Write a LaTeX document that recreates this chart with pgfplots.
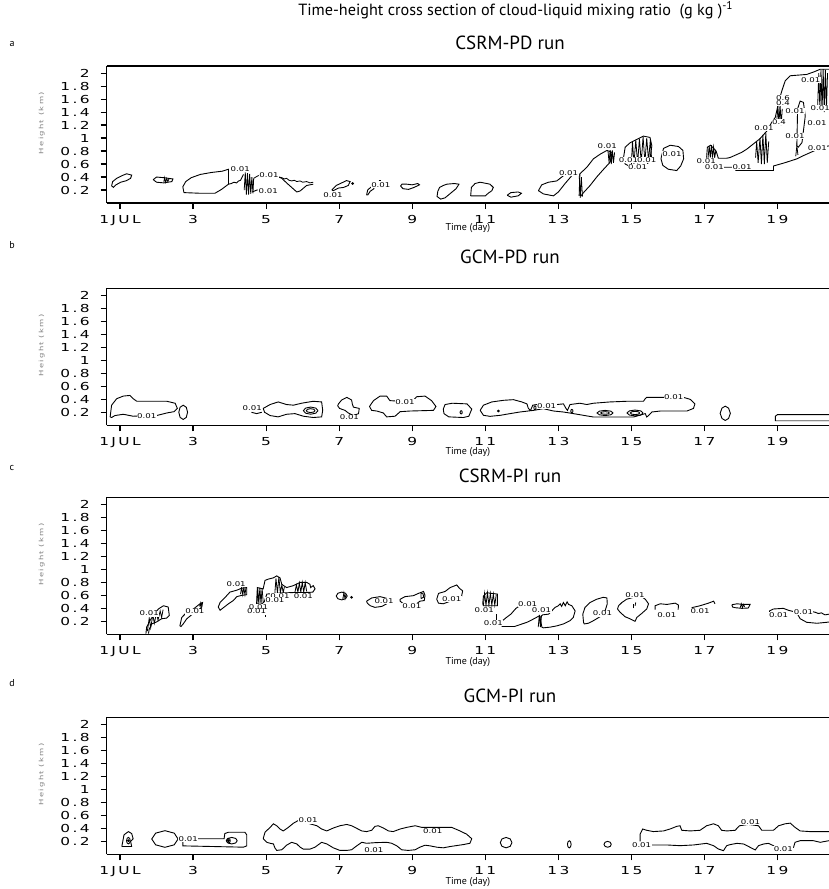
\documentclass[border=0pt]{standalone}
\usepackage{pgfplots}
\pgfplotsset{compat=1.18}
\usepackage{fontspec}
\setmainfont{PT Sans}
\newfontfamily\tickfont[FakeStretch=1.4,LetterSpace=22]{DejaVu Sans}
\newfontfamily\lblfontfam[FakeStretch=1.3]{DejaVu Sans}
\tikzset{lbl/.style={font=\lblfontfam\fontsize{3.3}{3.3}\selectfont, fill=white, inner sep=0.25pt}}
\pgfplotsset{
 cl/.style={black, line width=0.45pt, mark=none},
 ht/.style={black, line width=0.4pt, mark=none},
 dot/.style={black, only marks, mark=*, mark size=0.45pt},
 panel/.style={
  scale only axis, width=361.15pt, height=68.5pt,
  xmin=0.636, xmax=20.41, ymin=0, ymax=2.11,
  axis x line*=bottom, axis y line*=left,
  axis line style={line width=0.7pt, black},
  tick align=outside, major tick length=3pt,
  tick style={line width=0.6pt, black},
  xtick={1,3,5,7,9,11,13,15,17,19},
  xticklabels={1JUL,3,5,7,9,11,13,15,17,19},
  ytick={0.2,0.4,0.6,0.8,1,1.2,1.4,1.6,1.8,2},
  yticklabels={0.2,0.4,0.6,0.8,1,1.2,1.4,1.6,1.8,2},
  ticklabel style={font=\tickfont\fontsize{5.5}{6}\selectfont},
  xticklabel style={yshift=0.5pt},
  yticklabel style={xshift=-2pt},
  xlabel={Time (day)},
  xlabel style={font=\fontsize{5}{6}\selectfont, at={(axis description cs:0.5,0)}, anchor=base},
  ylabel={Height (km)},
  ylabel style={font=\tickfont\fontsize{3}{3}\selectfont, text=gray, at={(axis description cs:-0.09,0.583)}, anchor=center},
  extra description/.code={\draw[line width=0.7pt] (rel axis cs:0,1)--(rel axis cs:1,1);},
 }
}
\begin{document}
\begin{tikzpicture}
\useasboundingbox (0,0) rectangle (414.5pt,-444.5pt);
% titles
\node[anchor=base, font=\fontsize{8.1}{9}\selectfont] at (258pt,-7.8pt) {Time-height cross section of cloud-liquid mixing ratio\ \ (g kg\ )\textsuperscript{-1}};
\node[anchor=base, font=\fontsize{9.5}{10}\selectfont] at (255pt,-24.5pt) {CSRM-PD run};
\node[anchor=base, font=\fontsize{9.5}{10}\selectfont] at (255pt,-131.7pt) {GCM-PD run};
\node[anchor=base, font=\fontsize{9.5}{10}\selectfont] at (255pt,-241.3pt) {CSRM-PI run};
\node[anchor=base, font=\fontsize{9.5}{10}\selectfont] at (255pt,-351.3pt) {GCM-PI run};
\node[anchor=base, font=\fontsize{5}{6}\selectfont] at (6pt,-23.3pt) {a};
\node[anchor=base, font=\fontsize{5}{6}\selectfont] at (6pt,-124pt) {b};
\node[anchor=base, font=\fontsize{5}{6}\selectfont] at (6pt,-235.3pt) {c};
\node[anchor=base, font=\fontsize{5}{6}\selectfont] at (6pt,-343.3pt) {d};

%================ PANEL A
\begin{axis}[panel, at={(53.35pt,-33pt)}, anchor=north west, xlabel style={yshift=-13.5pt}]
\addplot[cl] coordinates {(0.77,0.265)(0.80,0.33)(0.91,0.38)(1.05,0.42)(1.18,0.45)(1.32,0.43)(1.29,0.38)(1.18,0.345)(1.02,0.32)(0.89,0.28)(0.82,0.24)(0.77,0.265)};
\addplot[cl] coordinates {(1.91,0.36)(2.0,0.40)(2.2,0.39)(2.45,0.37)(2.42,0.33)(2.2,0.31)(2.0,0.32)(1.91,0.36)};
\addplot[ht] coordinates {(2.2,0.32)(2.22,0.39)(2.25,0.32)(2.28,0.38)(2.31,0.33)(2.34,0.37)};
\addplot[cl] coordinates {(2.75,0.16)(2.72,0.25)(2.80,0.33)(2.95,0.39)(3.2,0.44)(3.5,0.47)(3.8,0.49)(3.97,0.52)(3.97,0.40)(3.97,0.29)(3.78,0.21)(3.60,0.15)(3.2,0.15)(2.75,0.16)};
\addplot[cl] coordinates {(3.97,0.29)(4.05,0.30)(4.12,0.32)(4.19,0.31)(4.25,0.34)(4.30,0.35)(4.38,0.44)};
\addplot[ht] coordinates {(4.40,0.20)(4.43,0.47)(4.46,0.13)(4.49,0.46)(4.52,0.13)(4.55,0.45)(4.58,0.14)(4.61,0.40)(4.64,0.15)(4.66,0.38)(4.72,0.40)(4.78,0.42)(4.90,0.43)};
\addplot[cl] coordinates {(4.62,0.17)(4.75,0.20)(4.9,0.20)};
\addplot[cl] coordinates {(5.30,0.41)(5.43,0.38)(5.56,0.31)(5.70,0.24)(5.84,0.17)(5.93,0.185)(6.11,0.27)(6.29,0.29)};
\addplot[ht] coordinates {(5.35,0.40)(5.43,0.39)(5.50,0.37)(5.56,0.38)(5.63,0.35)(5.70,0.34)(5.77,0.35)(5.84,0.33)(5.93,0.34)(6.0,0.32)(6.11,0.33)(6.2,0.31)(6.29,0.32)};
\addplot[cl] coordinates {(6.80,0.20)(6.92,0.27)(7.07,0.31)(7.20,0.345)(7.3,0.33)(7.25,0.27)(7.12,0.24)(6.98,0.23)(6.84,0.19)(6.80,0.20)};
\addplot[dot] coordinates {(7.37,0.30)};
\addplot[cl] coordinates {(7.75,0.12)(7.78,0.20)(7.86,0.24)(7.94,0.26)(7.95,0.22)(7.85,0.18)(7.78,0.12)};
\addplot[ht] coordinates {(8.08,0.35)(8.14,0.35)};
\addplot[cl] coordinates {(8.68,0.26)(8.75,0.22)(8.9,0.21)(9.05,0.24)(9.2,0.28)(9.15,0.30)(9.0,0.28)(8.85,0.29)(8.72,0.29)(8.68,0.26)};
\addplot[cl] coordinates {(9.70,0.18)(9.68,0.10)(9.78,0.06)(9.90,0.08)(10.05,0.15)(10.2,0.22)(10.28,0.29)(10.15,0.30)(9.95,0.29)(9.85,0.27)(9.75,0.24)(9.70,0.18)};
\addplot[cl] coordinates {(10.60,0.11)(10.62,0.24)(10.72,0.30)(10.86,0.32)(11.13,0.29)(11.22,0.24)(11.18,0.19)(11.08,0.15)(11.0,0.11)(10.60,0.11)};
\addplot[cl] coordinates {(11.6,0.12)(11.7,0.16)(11.9,0.17)(11.99,0.15)(11.9,0.11)(11.7,0.09)(11.6,0.12)};
\addplot[cl] coordinates {(12.455,0.19)(12.546,0.28)(12.729,0.32)(12.957,0.34)(13.139,0.42)(13.322,0.47)(13.368,0.42)(13.185,0.30)(13.002,0.17)(12.866,0.11)(12.592,0.14)(12.455,0.19)};
\addplot[cl] coordinates {(13.57,0.11)(13.59,0.45)(13.78,0.55)(13.96,0.68)(14.14,0.75)(14.33,0.81)(14.47,0.78)(14.42,0.63)(14.24,0.52)(14.05,0.40)(13.87,0.27)(13.69,0.16)(13.61,0.10)};
\addplot[ht] coordinates {(14.36,0.80)(14.39,0.62)(14.42,0.83)(14.45,0.60)(14.48,0.81)(14.51,0.62)(14.54,0.78)};
\addplot[ht] coordinates {(13.57,0.45)(13.60,0.08)(13.63,0.40)(13.66,0.10)};
\addplot[cl] coordinates {(14.78,0.68)(14.83,0.86)(14.97,0.93)(15.15,0.98)(15.33,1.03)(15.51,1.01)(15.56,0.88)(15.51,0.68)(15.42,0.58)(15.24,0.57)(14.97,0.56)(14.83,0.60)(14.78,0.68)};
\addplot[ht] coordinates {(15.0,0.60)(15.03,0.95)(15.07,0.60)(15.12,0.97)(15.17,0.61)(15.22,0.99)(15.27,0.62)(15.32,1.02)(15.37,0.63)(15.42,1.0)(15.47,0.65)(15.52,0.98)(15.55,0.70)};
\addplot[cl] coordinates {(15.83,0.73)(15.88,0.84)(16.06,0.89)(16.29,0.87)(16.41,0.81)(16.43,0.68)(16.35,0.57)(16.24,0.50)(16.01,0.52)(15.86,0.58)(15.81,0.68)(15.83,0.73)};
\addplot[cl] coordinates {(17.06,0.70)(17.08,0.86)(17.17,0.89)(17.32,0.80)(17.38,0.69)(17.61,0.69)(17.70,0.70)(18.02,0.78)(18.16,0.83)(18.34,0.91)(18.52,0.99)(18.71,1.11)(18.84,1.24)(18.94,1.32)(19.03,1.55)(19.12,1.73)(19.21,1.88)(19.35,1.96)(19.80,1.98)(20.0,2.02)(20.17,2.06)(20.41,2.06)};
\addplot[cl] coordinates {(17.45,0.55)(17.84,0.55)(17.86,0.50)(18.89,0.50)(18.89,0.57)(19.2,0.62)(19.53,0.68)(19.71,0.73)(19.99,0.80)(20.21,0.86)(20.41,0.88)};
\addplot[cl] coordinates {(19.53,0.88)(19.55,1.45)(19.62,1.57)(19.71,1.55)(19.76,1.34)(19.67,0.93)(19.57,0.86)(19.53,0.88)};
\addplot[ht] coordinates {(17.10,0.70)(17.13,0.88)(17.16,0.70)(17.19,0.89)(17.22,0.70)(17.25,0.86)(17.28,0.70)(17.31,0.80)};
\addplot[ht] coordinates {(18.40,0.70)(18.43,0.95)(18.47,0.62)(18.52,1.00)(18.56,0.60)(18.60,1.05)(18.64,0.60)(18.68,1.08)(18.72,0.62)(18.76,0.95)};
\addplot[ht] coordinates {(18.98,1.25)(19.01,1.50)(19.04,1.22)(19.07,1.52)(19.10,1.20)(19.13,1.45)};
\addplot[ht] coordinates {(20.10,1.50)(20.13,2.0)(20.16,1.45)(20.19,2.05)(20.22,1.42)(20.25,2.06)(20.28,1.40)(20.31,2.05)(20.34,1.45)(20.37,2.0)};
\addplot[ht] coordinates {(19.50,0.72)(19.53,0.88)(19.56,0.74)};
\node[lbl] at (axis cs:4.29,0.52) {0.01};
\node[lbl] at (axis cs:5.08,0.43) {0.01};
\node[lbl] at (axis cs:5.06,0.19) {0.01};
\node[lbl] at (axis cs:6.83,0.12) {0.01};
\node[lbl] at (axis cs:8.14,0.28) {0.01};
\node[lbl] at (axis cs:13.28,0.46) {0.01};
\node[lbl] at (axis cs:14.34,0.87) {0.01};
\node[lbl] at (axis cs:14.92,0.66) {0.01};
\node[lbl] at (axis cs:15.42,0.66) {0.01};
\node[lbl] at (axis cs:15.17,0.56) {0.01};
\node[lbl] at (axis cs:16.11,0.76) {0.01};
\node[lbl] at (axis cs:17.05,0.64) {0.01};
\node[lbl] at (axis cs:17.27,0.55) {0.01};
\node[lbl] at (axis cs:18.03,0.55) {0.01};
\node[lbl] at (axis cs:18.63,1.15) {0.01};
\node[lbl] at (axis cs:19.04,1.24) {0.4};
\node[lbl] at (axis cs:19.15,1.62) {0.6};
\node[lbl] at (axis cs:19.15,1.54) {0.4};
\node[lbl] at (axis cs:19.48,1.42) {0.01};
\node[lbl] at (axis cs:19.48,1.03) {0.01};
\node[lbl] at (axis cs:20.09,0.84) {0.01};
\node[lbl] at (axis cs:20.17,1.46) {0.01};
\node[lbl] at (axis cs:20.08,1.23) {0.01};
\node[lbl] at (axis cs:19.91,1.90) {0.01};
\end{axis}

%================ PANEL B
\begin{axis}[panel, at={(53.35pt,-144.15pt)}, anchor=north west, xlabel style={yshift=-14.5pt}]
\addplot[cl] coordinates {(0.73,0.13)(0.77,0.31)(0.91,0.41)(1.09,0.45)(1.27,0.46)(1.36,0.41)(1.46,0.37)(2.28,0.37)(2.51,0.34)(2.57,0.26)(2.48,0.21)(2.28,0.19)(2.0,0.15)(1.36,0.14)(1.09,0.17)(0.86,0.15)(0.77,0.12)(0.73,0.13)};
\addplot[cl] coordinates {(2.85,0.20)(2.815,0.278)(2.73,0.31)(2.645,0.278)(2.61,0.20)(2.645,0.122)(2.73,0.09)(2.815,0.122)(2.85,0.20)};
\addplot[cl] coordinates {(4.60,0.20)(4.74,0.18)(4.88,0.20)};
\addplot[cl] coordinates {(4.92,0.26)(5.11,0.32)(5.33,0.36)(5.56,0.32)(5.75,0.31)(5.97,0.34)(6.29,0.37)(6.52,0.36)(6.55,0.23)(6.52,0.13)(6.29,0.12)(6.02,0.14)(5.79,0.18)(5.56,0.17)(5.33,0.13)(5.11,0.15)(4.96,0.20)(4.92,0.26)};
\addplot[cl] coordinates {(6.42,0.226)(6.36,0.265)(6.22,0.281)(6.08,0.265)(6.02,0.226)(6.08,0.187)(6.22,0.171)(6.36,0.187)(6.42,0.226)};
\addplot[cl] coordinates {(6.34,0.226)(6.305,0.247)(6.22,0.256)(6.135,0.247)(6.10,0.226)(6.135,0.205)(6.22,0.196)(6.305,0.205)(6.34,0.226)};
\addplot[cl] coordinates {(6.98,0.33)(7.07,0.39)(7.21,0.43)(7.34,0.39)(7.36,0.33)(7.39,0.28)(7.55,0.26)(7.53,0.18)(7.39,0.15)(7.25,0.19)(7.16,0.23)(7.01,0.26)(6.96,0.30)(6.98,0.33)};
\addplot[cl] coordinates {(7.83,0.29)(7.94,0.38)(8.12,0.45)(8.30,0.45)(8.39,0.38)(8.99,0.36)(9.12,0.44)(9.35,0.45)(9.53,0.38)(9.65,0.29)(9.58,0.23)(8.94,0.22)(8.67,0.21)(8.53,0.14)(8.30,0.13)(8.21,0.19)(8.03,0.22)(7.89,0.23)(7.83,0.29)};
\addplot[cl] coordinates {(9.85,0.25)(9.90,0.32)(10.1,0.34)(10.5,0.33)(10.63,0.25)(10.55,0.14)(10.4,0.12)(10.0,0.13)(9.87,0.18)(9.85,0.25)};
\addplot[cl] coordinates {(10.37,0.20)(10.36,0.218)(10.34,0.225)(10.32,0.218)(10.31,0.20)(10.32,0.182)(10.34,0.175)(10.36,0.182)(10.37,0.20)};
\addplot[cl] coordinates {(10.86,0.23)(10.95,0.31)(11.18,0.36)(11.50,0.385)(11.77,0.395)(12.0,0.36)(12.14,0.33)(12.18,0.26)(12.24,0.23)(12.30,0.31)(12.41,0.32)(12.96,0.32)(13.14,0.33)(13.21,0.26)(13.25,0.23)(13.32,0.32)(13.59,0.34)(13.78,0.32)(13.96,0.34)(14.42,0.36)(14.87,0.37)(15.33,0.37)(15.38,0.41)(15.42,0.43)(15.88,0.43)(16.43,0.43)(16.61,0.40)(16.74,0.33)(16.70,0.26)(16.52,0.22)(15.79,0.22)(15.56,0.205)(15.47,0.15)(15.42,0.128)(15.38,0.18)(15.06,0.128)(14.69,0.128)(13.96,0.128)(13.41,0.18)(13.14,0.205)(12.87,0.22)(12.59,0.256)(12.32,0.23)(11.95,0.205)(11.68,0.18)(11.41,0.154)(11.13,0.138)(10.95,0.154)(10.86,0.23)};
\addplot[dot] coordinates {(11.36,0.22)};
\addplot[cl] coordinates {(12.39,0.27)(12.381,0.291)(12.36,0.30)(12.339,0.291)(12.33,0.27)(12.339,0.249)(12.36,0.24)(12.381,0.249)(12.39,0.27)};
\addplot[cl] coordinates {(13.40,0.22)(13.391,0.238)(13.37,0.245)(13.349,0.238)(13.34,0.22)(13.349,0.202)(13.37,0.195)(13.391,0.202)(13.40,0.22)};
\addplot[cl] coordinates {(14.50,0.19)(14.436,0.218)(14.28,0.23)(14.124,0.218)(14.06,0.19)(14.124,0.162)(14.28,0.15)(14.436,0.162)(14.50,0.19)};
\addplot[cl] coordinates {(14.40,0.19)(14.365,0.204)(14.28,0.21)(14.195,0.204)(14.16,0.19)(14.195,0.176)(14.28,0.17)(14.365,0.176)(14.40,0.19)};
\addplot[cl] coordinates {(15.32,0.19)(15.256,0.222)(15.10,0.235)(14.944,0.222)(14.88,0.19)(14.944,0.158)(15.10,0.145)(15.256,0.158)(15.32,0.19)};
\addplot[cl] coordinates {(15.23,0.19)(15.192,0.208)(15.10,0.215)(15.008,0.208)(14.97,0.19)(15.008,0.172)(15.10,0.165)(15.192,0.172)(15.23,0.19)};
\addplot[cl] coordinates {(17.71,0.185)(17.66,0.265)(17.57,0.295)(17.48,0.265)(17.43,0.185)(17.48,0.105)(17.57,0.075)(17.66,0.105)(17.71,0.185)};
\addplot[cl] coordinates {(20.41,0.165)(19.0,0.165)(18.94,0.14)(18.94,0.07)(20.41,0.07)};
\addplot[black!45, line width=0.45pt, mark=none] coordinates {(18.96,0.08)(20.41,0.08)};
\node[lbl] at (axis cs:1.73,0.14) {0.01};
\node[lbl] at (axis cs:4.62,0.26) {0.01};
\node[lbl] at (axis cs:7.28,0.12) {0.01};
\node[lbl] at (axis cs:8.80,0.36) {0.01};
\node[lbl] at (axis cs:12.68,0.30) {0.01};
\node[lbl] at (axis cs:16.16,0.43) {0.01};
\end{axis}

%================ PANEL C
\begin{axis}[panel, at={(53.35pt,-248.65pt)}, anchor=north west, xlabel style={yshift=-15pt}]
\addplot[cl] coordinates {(1.71,0.01)(1.73,0.11)(1.82,0.21)(1.91,0.29)(2.05,0.39)(2.19,0.44)(2.32,0.42)(2.35,0.29)(2.28,0.25)(2.14,0.24)(2.0,0.19)(1.87,0.16)(1.80,0.08)(1.78,0.01)};
\addplot[ht] coordinates {(1.75,0.05)(1.80,0.25)(1.84,0.10)(1.90,0.30)(1.94,0.17)(2.00,0.33)(2.04,0.22)(2.10,0.36)(2.14,0.26)(2.18,0.38)};
\addplot[cl] coordinates {(2.64,0.13)(2.69,0.26)(2.83,0.34)(3.01,0.39)(3.19,0.47)(3.26,0.49)(3.24,0.42)(3.10,0.35)(2.96,0.30)(2.83,0.24)(2.73,0.16)(2.67,0.12)(2.64,0.13)};
\addplot[ht] coordinates {(3.18,0.43)(3.20,0.48)(3.22,0.42)(3.24,0.49)};
\addplot[cl] coordinates {(3.69,0.42)(3.74,0.49)(3.88,0.57)(4.01,0.65)(4.20,0.68)(4.33,0.71)(4.47,0.72)(4.47,0.61)(4.33,0.60)(4.20,0.58)(4.10,0.52)(3.97,0.47)(3.83,0.41)(3.74,0.37)(3.69,0.42)};
\addplot[ht] coordinates {(4.30,0.62)(4.33,0.72)(4.36,0.61)(4.39,0.72)(4.42,0.61)(4.45,0.72)};
\addplot[cl] coordinates {(4.74,0.47)(4.76,0.72)(4.83,0.71)(4.92,0.70)(4.97,0.83)(5.06,0.85)(5.20,0.87)(5.29,0.90)(5.38,0.87)(5.43,0.77)(5.56,0.72)(5.75,0.75)(5.93,0.80)(6.11,0.80)(6.20,0.77)(6.22,0.72)(6.29,0.75)(6.34,0.70)(6.28,0.65)(6.16,0.645)(5.5,0.64)(5.02,0.62)(4.95,0.50)(4.86,0.46)(4.74,0.47)};
\addplot[ht] coordinates {(4.75,0.47)(4.77,0.72)(4.80,0.47)(4.83,0.72)(4.86,0.47)(4.89,0.71)(4.92,0.50)};
\addplot[ht] coordinates {(5.24,0.64)(5.27,0.86)(5.31,0.64)(5.35,0.88)(5.39,0.64)(5.43,0.76)(5.47,0.64)(5.50,0.73)};
\addplot[ht] coordinates {(5.79,0.65)(5.83,0.76)(5.87,0.65)(5.91,0.79)(5.95,0.65)(5.99,0.80)(6.03,0.65)(6.07,0.80)(6.11,0.66)};
\addplot[ht] coordinates {(4.99,0.27)(4.99,0.31)};
\addplot[cl] coordinates {(7.22,0.59)(7.176,0.632)(7.07,0.65)(6.964,0.632)(6.92,0.59)(6.964,0.548)(7.07,0.53)(7.176,0.548)(7.22,0.59)};
\addplot[ht] coordinates {(7.10,0.54)(7.13,0.64)(7.16,0.55)(7.19,0.62)};
\addplot[dot] coordinates {(7.34,0.57)};
\addplot[cl] coordinates {(7.75,0.51)(7.89,0.56)(8.12,0.58)(8.26,0.56)(8.37,0.54)(8.30,0.47)(8.17,0.43)(7.98,0.415)(7.85,0.44)(7.77,0.48)(7.75,0.51)};
\addplot[cl] coordinates {(8.67,0.54)(8.80,0.58)(9.03,0.595)(9.17,0.63)(9.31,0.66)(9.35,0.60)(9.33,0.52)(9.21,0.51)(9.12,0.47)(8.94,0.44)(8.76,0.47)(8.67,0.51)(8.67,0.54)};
\addplot[cl] coordinates {(9.24,0.55)(9.24,0.64)(9.30,0.62)(9.31,0.57)(9.24,0.55)};
\addplot[cl] coordinates {(9.67,0.54)(9.72,0.63)(9.90,0.66)(10.04,0.72)(10.22,0.76)(10.29,0.71)(10.38,0.67)(10.35,0.58)(10.22,0.54)(10.04,0.51)(9.85,0.47)(9.72,0.48)(9.67,0.54)};
\addplot[cl] coordinates {(10.93,0.47)(10.95,0.59)(11.04,0.64)(11.18,0.63)(11.33,0.62)(11.33,0.44)(10.95,0.44)(10.93,0.47)};
\addplot[ht] coordinates {(10.95,0.45)(10.98,0.63)(11.02,0.45)(11.06,0.64)(11.10,0.45)(11.14,0.63)(11.18,0.45)(11.22,0.62)(11.26,0.45)(11.30,0.61)};
\addplot[ht] coordinates {(11.30,0.21)(11.30,0.31)};
\addplot[cl] coordinates {(11.45,0.20)(11.58,0.26)(11.70,0.31)(11.84,0.40)(11.95,0.44)(12.35,0.44)(12.45,0.40)};
\addplot[cl] coordinates {(11.45,0.12)(11.8,0.12)(12.14,0.185)(12.3,0.23)(12.5,0.29)};
\addplot[ht] coordinates {(12.45,0.11)(12.48,0.30)(12.51,0.11)(12.54,0.29)};
\addplot[cl] coordinates {(12.55,0.11)(12.50,0.26)(12.57,0.30)(12.73,0.31)(12.82,0.36)(12.91,0.415)(13.0,0.44)(13.05,0.47)(13.09,0.43)(13.14,0.49)(13.19,0.44)(13.24,0.50)(13.28,0.46)(13.37,0.44)(13.46,0.36)(13.41,0.26)(13.32,0.21)(13.14,0.16)(12.96,0.13)(12.77,0.11)(12.59,0.10)(12.55,0.11)};
\addplot[cl] coordinates {(13.69,0.185)(13.67,0.31)(13.73,0.415)(13.87,0.49)(14.05,0.54)(14.23,0.57)(14.33,0.56)(14.34,0.47)(14.28,0.36)(14.14,0.27)(13.96,0.21)(13.82,0.17)(13.71,0.16)(13.69,0.185)};
\addplot[cl] coordinates {(14.65,0.44)(14.74,0.49)(14.87,0.54)(15.06,0.57)(15.28,0.58)(15.38,0.54)(15.47,0.47)(15.42,0.39)(15.28,0.32)(15.15,0.26)(15.10,0.20)(14.96,0.24)(14.83,0.27)(14.69,0.34)(14.62,0.39)(14.65,0.44)};
\addplot[ht] coordinates {(15.05,0.40)(15.05,0.46)};
\addplot[ht] coordinates {(15.10,0.44)(15.12,0.49)};
\addplot[cl] coordinates {(15.65,0.38)(15.65,0.44)(15.79,0.47)(15.97,0.46)(16.2,0.48)(16.29,0.45)(16.28,0.38)};
\addplot[cl] coordinates {(16.65,0.41)(16.88,0.44)(17.11,0.48)(17.25,0.51)(17.29,0.47)};
\addplot[cl] coordinates {(17.75,0.455)(17.89,0.47)(18.07,0.46)(18.25,0.46)(18.20,0.405)(18.02,0.40)(17.84,0.41)(17.77,0.42)(17.75,0.455)};
\addplot[ht] coordinates {(17.98,0.41)(18.01,0.47)(18.04,0.41)(18.07,0.46)(18.10,0.42)};
\addplot[cl] coordinates {(18.78,0.33)(18.78,0.36)(18.89,0.39)(19.16,0.40)(19.3,0.37)(19.44,0.35)};
\addplot[cl] coordinates {(19.53,0.33)(19.62,0.24)(19.80,0.185)(20.08,0.17)(20.35,0.185)(20.41,0.19)};
\addplot[cl] coordinates {(19.95,0.35)(20.03,0.34)(20.12,0.32)(20.2,0.33)(20.3,0.30)(20.41,0.31)};
\node[lbl] at (axis cs:1.80,0.32) {0.01};
\node[lbl] at (axis cs:3.05,0.35) {0.01};
\node[lbl] at (axis cs:4.18,0.77) {0.01};
\node[lbl] at (axis cs:5.38,0.59) {0.01};
\node[lbl] at (axis cs:6.02,0.59) {0.01};
\node[lbl] at (axis cs:5.24,0.53) {0.01};
\node[lbl] at (axis cs:4.79,0.415) {0.01};
\node[lbl] at (axis cs:4.74,0.35) {0.01};
\node[lbl] at (axis cs:8.23,0.51) {0.01};
\node[lbl] at (axis cs:8.99,0.44) {0.01};
\node[lbl] at (axis cs:10.08,0.54) {0.01};
\node[lbl] at (axis cs:10.97,0.38) {0.01};
\node[lbl] at (axis cs:11.22,0.17) {0.01};
\node[lbl] at (axis cs:12.16,0.47) {0.01};
\node[lbl] at (axis cs:12.54,0.37) {0.01};
\node[lbl] at (axis cs:14.21,0.32) {0.01};
\node[lbl] at (axis cs:15.10,0.61) {0.01};
\node[lbl] at (axis cs:15.97,0.30) {0.01};
\node[lbl] at (axis cs:16.88,0.35) {0.01};
\node[lbl] at (axis cs:19.03,0.29) {0.01};
\node[lbl] at (axis cs:19.71,0.34) {0.01};
\end{axis}

%================ PANEL D
\begin{axis}[panel, at={(53.35pt,-358.65pt)}, anchor=north west, xlabel style={yshift=-15pt}]
\addplot[cl] coordinates {(1.05,0.12)(1.09,0.24)(1.11,0.30)(1.23,0.35)(1.32,0.32)(1.36,0.24)(1.29,0.20)(1.32,0.12)(1.05,0.12)};
\addplot[cl] coordinates {(1.28,0.21)(1.265,0.245)(1.23,0.26)(1.195,0.245)(1.18,0.21)(1.195,0.175)(1.23,0.16)(1.265,0.175)(1.28,0.21)};
\addplot[dot] coordinates {(1.23,0.21)};
\addplot[cl] coordinates {(2.59,0.236)(2.485,0.326)(2.23,0.364)(1.975,0.326)(1.87,0.236)(1.975,0.146)(2.23,0.108)(2.485,0.146)(2.59,0.236)};
\addplot[cl] coordinates {(2.72,0.21)(2.72,0.13)(4.38,0.11)(4.47,0.13)(4.47,0.30)(4.42,0.34)(3.97,0.34)(3.87,0.32)(3.85,0.24)(3.10,0.24)};
\addplot[cl] coordinates {(4.21,0.21)(4.166,0.245)(4.06,0.26)(3.954,0.245)(3.91,0.21)(3.954,0.175)(4.06,0.16)(4.166,0.175)(4.21,0.21)};
\addplot[cl] coordinates {(4.02,0.21)(4.005,0.235)(3.97,0.245)(3.935,0.235)(3.92,0.21)(3.935,0.185)(3.97,0.175)(4.005,0.185)(4.02,0.21)};
\addplot[dot] coordinates {(3.97,0.21)};
\addplot[cl] coordinates {(4.92,0.24)(4.97,0.34)(5.11,0.415)(5.20,0.47)(5.29,0.44)(5.38,0.39)(5.47,0.36)(5.61,0.415)(5.75,0.48)(5.88,0.52)(6.39,0.44)(6.52,0.39)(6.66,0.36)(6.84,0.405)(7.02,0.44)(7.21,0.46)(7.34,0.44)(7.48,0.40)(7.62,0.36)(7.75,0.35)(7.89,0.37)(7.98,0.43)(8.07,0.44)(8.21,0.405)(8.35,0.36)(8.48,0.35)(8.67,0.39)(8.85,0.415)(9.08,0.44)(9.26,0.415)(9.85,0.415)(10.08,0.415)(10.31,0.36)(10.49,0.31)(10.63,0.24)(10.58,0.17)(10.40,0.15)(10.04,0.12)(9.85,0.10)(9.67,0.11)(9.49,0.13)(9.35,0.14)(9.21,0.11)(9.08,0.07)(8.89,0.06)(8.71,0.07)(8.58,0.13)(8.44,0.17)(8.30,0.185)(8.0,0.18)(7.75,0.17)(7.62,0.185)(7.48,0.13)(7.34,0.07)(7.21,0.06)(7.02,0.06)(6.84,0.10)(6.66,0.16)(6.52,0.185)(6.34,0.11)(6.20,0.08)(6.02,0.08)(5.93,0.11)(5.84,0.16)(5.70,0.185)(5.56,0.14)(5.43,0.07)(5.29,0.06)(5.24,0.10)(5.20,0.16)(5.11,0.17)(5.02,0.185)(4.92,0.24)};
\addplot[cl] coordinates {(11.73,0.18)(11.683,0.237)(11.57,0.26)(11.457,0.237)(11.41,0.18)(11.457,0.123)(11.57,0.10)(11.683,0.123)(11.73,0.18)};
\addplot[cl] coordinates {(13.35,0.154)(13.335,0.193)(13.30,0.209)(13.265,0.193)(13.25,0.154)(13.265,0.115)(13.30,0.099)(13.335,0.115)(13.35,0.154)};
\addplot[cl] coordinates {(14.45,0.154)(14.42,0.186)(14.35,0.199)(14.28,0.186)(14.25,0.154)(14.28,0.122)(14.35,0.109)(14.42,0.122)(14.45,0.154)};
\addplot[cl] coordinates {(15.24,0.20)(15.24,0.31)(15.31,0.39)(15.42,0.37)(15.60,0.35)(15.88,0.36)(16.06,0.39)(16.24,0.43)(16.33,0.44)(16.38,0.37)(16.61,0.36)(16.88,0.37)(17.06,0.44)(17.25,0.47)(17.38,0.44)(17.47,0.37)(17.61,0.36)(17.84,0.37)(17.96,0.44)(18.2,0.46)(18.48,0.44)(18.57,0.37)(18.89,0.37)(19.03,0.44)(19.21,0.47)(19.35,0.48)(19.48,0.415)(19.62,0.36)(19.89,0.35)(20.41,0.35)};
\addplot[cl] coordinates {(15.45,0.144)(15.97,0.144)(16.33,0.133)(16.70,0.144)(17.06,0.169)(17.25,0.133)(17.38,0.082)(17.52,0.056)(17.61,0.133)(17.70,0.149)(17.89,0.169)(18.07,0.159)(18.25,0.108)(18.39,0.067)(18.48,0.133)(18.62,0.159)(18.75,0.169)(18.89,0.133)(18.96,0.097)(19.2,0.09)(19.44,0.108)(19.48,0.185)(19.62,0.21)(19.98,0.21)(20.17,0.185)(20.41,0.21)};
\node[lbl] at (axis cs:2.87,0.24) {0.01};
\node[lbl] at (axis cs:6.15,0.52) {0.01};
\node[lbl] at (axis cs:9.56,0.36) {0.01};
\node[lbl] at (axis cs:7.95,0.07) {0.01};
\node[lbl] at (axis cs:15.28,0.14) {0.01};
\node[lbl] at (axis cs:18.26,0.50) {0.01};
\node[lbl] at (axis cs:19.16,0.087) {0.01};
\end{axis}
\end{tikzpicture}
\end{document}
